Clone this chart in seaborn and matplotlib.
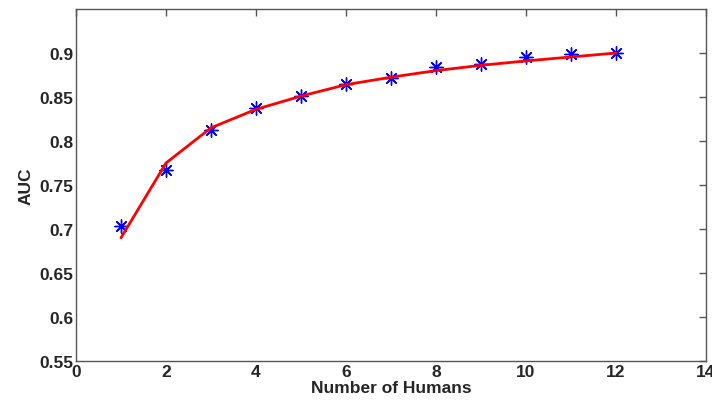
import numpy as np
import pandas as pd
import matplotlib
matplotlib.use('Agg')
import matplotlib.pyplot as plt
import seaborn as sns

# --- dados ---
num_humanos = [1, 2, 3, 4, 5, 6, 7, 8, 9, 10, 11, 12]
auc_medido = [0.703, 0.767, 0.813, 0.837, 0.851, 0.865, 0.872, 0.884, 0.888, 0.895, 0.899, 0.900]
auc_ajuste = [0.690, 0.775, 0.815, 0.836, 0.851, 0.864, 0.8725, 0.880, 0.886, 0.891, 0.8955, 0.900]
ticks_x = [0, 2, 4, 6, 8, 10, 12, 14]
ticks_y = [0.55, 0.6, 0.65, 0.7, 0.75, 0.8, 0.85, 0.9]
rotulos_y = ['0.55', '0.6', '0.65', '0.7', '0.75', '0.8', '0.85', '0.9']

df = pd.DataFrame({'n': num_humanos, 'auc': auc_medido, 'ajuste': auc_ajuste})

sns.set_style('white')
plt.rcParams['font.family'] = ['Liberation Sans', 'DejaVu Sans']
plt.rcParams['font.weight'] = 'bold'

fig = plt.figure(figsize=(7.12, 4.06), dpi=100)
ax = fig.add_axes([76 / 712, 44 / 406, 630 / 712, 352 / 406])

# asterisco estilo MATLAB (8 braços)
sns.scatterplot(data=df, x='n', y='auc', marker=(8, 2, 0), s=90, color='blue',
                edgecolor='blue', linewidth=1.0, ax=ax, zorder=2)
sns.lineplot(data=df, x='n', y='ajuste', color='red', linewidth=2, ax=ax, zorder=3)

ax.set_xlim(0, 14)
ax.set_ylim(0.55, 0.95)
ax.set_xticks(ticks_x)
ax.set_yticks(ticks_y)
ax.set_xticklabels([str(t) for t in ticks_x], fontsize=12.5, fontweight='bold')
ax.set_yticklabels(rotulos_y, fontsize=12.5, fontweight='bold')
ax.set_xlabel('Number of Humans', fontsize=12.5, fontweight='bold', labelpad=1)
ax.set_ylabel('AUC', fontsize=12.5, fontweight='bold', labelpad=4)

ax.tick_params(direction='in', length=5, width=1, color='#555555', top=True, right=True,
               pad=2)
for s in ax.spines.values():
    s.set_color('#555555')
    s.set_linewidth(1)

fig.savefig('out.png', dpi=100)
